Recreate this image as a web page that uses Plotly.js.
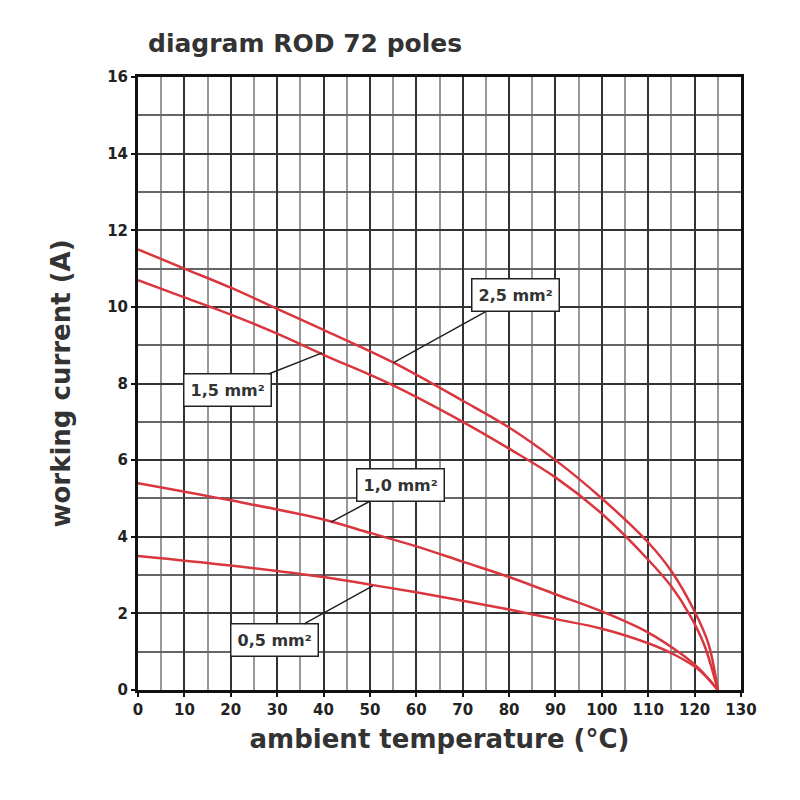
<!DOCTYPE html>
<html>
<head>
<meta charset="utf-8">
<script src="https://cdn.plot.ly/plotly-3.0.1.min.js"></script>
<style>html,body{margin:0;padding:0;background:#fff;}#chart{width:800px;height:800px;}</style>
</head>
<body>
<div id="chart"></div>
<script>
// Ambient temperature (°C) / working current (A)
const temp25 = [0, 10, 20, 30, 40, 55, 70, 80, 90, 100, 110, 115, 120, 123, 125];
const curr25 = [11.5, 11.0, 10.5, 9.95, 9.4, 8.55, 7.55, 6.85, 6.0, 5.0, 3.85, 3.1, 2.05, 1.2, 0];

const temp15 = [0, 10, 20, 30, 40, 55, 70, 80, 90, 100, 110, 115, 119, 122, 125];
const curr15 = [10.7, 10.25, 9.8, 9.3, 8.75, 7.95, 7.0, 6.3, 5.55, 4.6, 3.4, 2.7, 1.95, 1.2, 0];

const temp10 = [0, 20, 40, 50, 60, 70, 80, 90, 100, 110, 117, 121, 125];
const curr10 = [5.4, 4.95, 4.45, 4.1, 3.75, 3.35, 2.95, 2.5, 2.05, 1.5, 0.95, 0.55, 0];

const temp05 = [0, 20, 40, 50, 60, 70, 80, 90, 100, 110, 116, 121, 125];
const curr05 = [3.5, 3.25, 2.95, 2.75, 2.55, 2.33, 2.1, 1.85, 1.6, 1.22, 0.9, 0.52, 0];

const seriesNames = ['2,5 mm²', '1,5 mm²', '1,0 mm²', '0,5 mm²'];
const xTicks = [0,10,20,30,40,50,60,70,80,90,100,110,120,130];
const yTicks = [0,2,4,6,8,10,12,14,16];

// label box (text center) and pointed curve location
const labelX = [81.3, 19.4, 56.5, 29.5];
const labelY = [10.3, 7.83, 5.35, 1.3];
const pointX = [55, 39.7, 41.6, 50.6];
const pointY = [8.54, 8.8, 4.38, 2.72];

const red = '#d9363e';
const mk = (x, y, n) => ({x: x, y: y, name: n, type: 'scatter', mode: 'lines',
  line: {color: red, width: 2.5, shape: 'spline', smoothing: 1}, hoverinfo: 'x+y+name'});

const data = [
  mk(temp25, curr25, seriesNames[0]),
  mk(temp15, curr15, seriesNames[1]),
  mk(temp10, curr10, seriesNames[2]),
  mk(temp05, curr05, seriesNames[3])
];

const annotations = seriesNames.map((n, i) => ({
  x: pointX[i], y: pointY[i], xref: 'x', yref: 'y',
  ax: labelX[i], ay: labelY[i], axref: 'x', ayref: 'y',
  text: n, showarrow: true, arrowhead: 0, arrowwidth: 1.5, arrowcolor: '#222',
  bgcolor: '#fff', bordercolor: '#222', borderwidth: 1.5, borderpad: 6,
  font: {family: 'DejaVu Sans', size: 16, color: '#333', weight: 'bold'}
}));

const tickFont = {family: 'DejaVu Sans', size: 15, color: '#222', weight: 'bold'};

const layout = {
  width: 800, height: 800,
  paper_bgcolor: '#fff', plot_bgcolor: '#fff',
  margin: {l: 138, r: 59, t: 77, b: 110},
  showlegend: false,
  title: {text: 'diagram ROD 72 poles', x: 148/800, xanchor: 'left', y: 1 - 43/800, yanchor: 'middle',
    font: {family: 'DejaVu Sans', size: 25, color: '#333', weight: 'bold'}},
  xaxis: {
    range: [0, 130], tickvals: xTicks, ticktext: xTicks.map(String),
    tickfont: tickFont, ticks: 'outside', ticklen: 4, tickwidth: 2, tickcolor: '#111',
    showgrid: true, gridcolor: '#333', gridwidth: 2,
    minor: {dtick: 5, showgrid: true, gridcolor: '#999', gridwidth: 2, ticks: ''},
    showline: true, linecolor: '#111', linewidth: 3, mirror: true, zeroline: false,
    title: {text: 'ambient temperature (°C)', standoff: 12,
      font: {family: 'DejaVu Sans', size: 26, color: '#333', weight: 'bold'}}
  },
  yaxis: {
    range: [0, 16], tickvals: yTicks, ticktext: yTicks.map(String),
    tickfont: tickFont, ticks: 'outside', ticklen: 4, tickwidth: 2, tickcolor: '#111',
    showgrid: true, gridcolor: '#333', gridwidth: 2,
    minor: {dtick: 1, showgrid: true, gridcolor: '#666', gridwidth: 2, ticks: ''},
    showline: true, linecolor: '#111', linewidth: 3, mirror: true, zeroline: false,
    title: {text: 'working current (A)', standoff: 30,
      font: {family: 'DejaVu Sans', size: 26, color: '#333', weight: 'bold'}}
  },
  annotations: annotations
};

Plotly.newPlot('chart', data, layout, {displayModeBar: false, staticPlot: true});
</script>
</body>
</html>
